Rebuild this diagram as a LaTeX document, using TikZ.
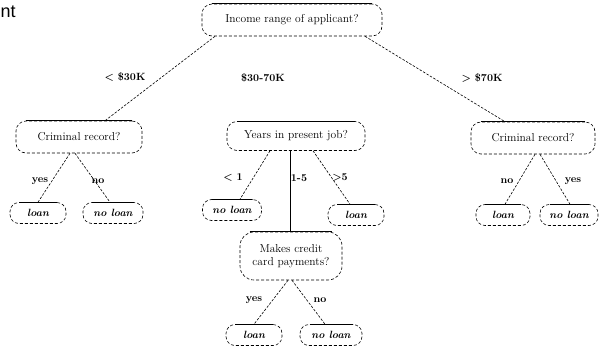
\documentclass[tikz,border=0pt]{standalone}
\usepackage{fontspec}
\newfontfamily\labelsans{Liberation Sans}
\begin{document}
\begin{tikzpicture}[x=1pt,y=-1pt,
  qbox/.style={draw, semithick, dash pattern=on 3pt off 2pt, rounded corners=10pt, minimum height=32pt, inner xsep=6pt, font=\fontsize{11.5}{13}\selectfont, align=center},
  leafbox/.style={draw, semithick, dash pattern=on 3pt off 2pt, rounded corners=9pt, minimum height=21pt, inner xsep=5pt, font=\fontsize{10.5}{11}\selectfont\bfseries\itshape},
  elab/.style={font=\fontsize{10.5}{11}\selectfont\bfseries, inner sep=1pt},
  edge/.style={semithick, dash pattern=on 2.5pt off 1.5pt}]
\useasboundingbox (0,0) rectangle (599,349);
\node[font=\labelsans\fontsize{18}{20}\selectfont, anchor=north west, inner sep=0pt] (frag) at (0.5,6) {nt};
% question nodes
\node[qbox, minimum width=180pt] (root) at (292,20) {Income range of applicant?};
\node[qbox, minimum width=126pt] (crl) at (79,137) {Criminal record?};
\node[qbox, minimum width=138pt, minimum height=29pt] (yrs) at (296,136) {Years in present job?};
\node[qbox, minimum width=102pt, minimum height=48pt, rounded corners=14pt, inner xsep=3pt] (pay) at (291,256) {Makes credit\\card payments?};
\node[qbox, minimum width=124pt] (crr) at (533,138) {Criminal record?};
% leaves
\node[leafbox, minimum width=56pt] (l1) at (38,213) {loan};
\node[leafbox, minimum width=60pt] (l2) at (113,213) {no loan};
\node[leafbox, minimum width=59pt] (l3) at (232,210) {no loan};
\node[leafbox, minimum width=56pt] (l4) at (356,215) {loan};
\node[leafbox, minimum width=56pt] (l5) at (254,335) {loan};
\node[leafbox, minimum width=62pt] (l6) at (331,335) {no loan};
\node[leafbox, minimum width=54pt] (l7) at (503,215) {loan};
\node[leafbox, minimum width=58pt] (l8) at (569,215) {no loan};
% solid top edges
\foreach \n in {root,crl,yrs,crr,pay,l1,l2,l3,l4,l5,l6,l7,l8}
  \draw[semithick] ([xshift=10pt]\n.north west) -- ([xshift=-10pt]\n.north east);
% connectors
\draw[edge] ([xshift=-77pt]root.south) -- ([xshift=26pt]crl.north);
\draw[edge] ([xshift=73pt]root.south) -- ([xshift=-28pt]crr.north);
\draw[edge] ([xshift=-9pt]crl.south) -- (l1.north);
\draw[edge] ([xshift=-4pt]crl.south) -- ([xshift=-3pt]l2.north);
\draw[edge] ([xshift=-26pt]yrs.south) -- ([xshift=8pt]l3.north);
\draw[edge] ([xshift=17pt]yrs.south) -- ([xshift=-6pt]l4.north);
\draw[semithick] ([xshift=-6pt]yrs.south) -- ([xshift=-1pt]pay.north);
\draw[edge] ([xshift=-3pt]pay.south) -- (l5.north);
\draw[edge] ([xshift=1pt]pay.south) -- ([xshift=-6pt]l6.north);
\draw[edge] ([xshift=2pt]crr.south) -- ([xshift=2pt]l7.north);
\draw[edge] ([xshift=7pt]crr.south) -- ([xshift=1pt]l8.north);
% edge labels
\node[elab] (a1) at (125,77) {< \$30K};
\node[elab] (a2) at (263,78) {\$30-70K};
\node[elab] (a3) at (482,78) {> \$70K};
\node[elab] (b1) at (40,181) {yes};
\node[elab] (b2) at (98,181) {no};
\node[elab] (c1) at (233,178) {< 1};
\node[elab] (c2) at (299,178) {1-5};
\node[elab] (c3) at (340,178) {>5};
\node[elab] (d1) at (507,181) {no};
\node[elab] (d2) at (573,181) {yes};
\node[elab] (e1) at (254,300) {yes};
\node[elab] (e2) at (320,300) {no};
\end{tikzpicture}
\end{document}
